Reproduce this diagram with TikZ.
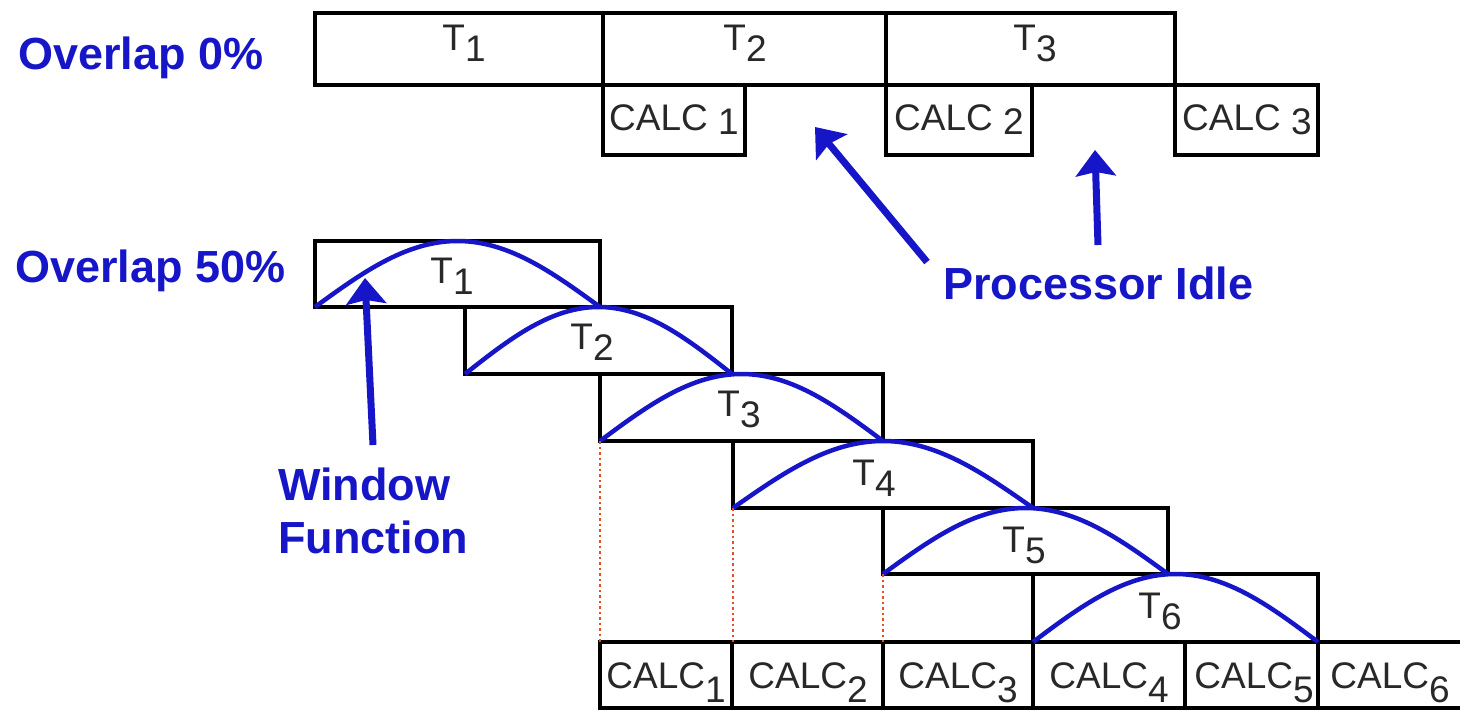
\documentclass[tikz,border=0pt]{standalone}
\usepackage{fontspec}
\setmainfont{Liberation Sans}
\usetikzlibrary{arrows.meta}
\definecolor{bl}{RGB}{22,22,200}
\definecolor{tx}{RGB}{40,40,40}
\definecolor{dotc}{RGB}{225,80,40}
\newcommand{\lsub}[1]{\raisebox{-11pt}{#1}}
\newcommand{\csub}[1]{\raisebox{-14pt}{#1}}
\newcommand{\tsub}[1]{\raisebox{-4pt}{#1}}
\begin{document}
\begin{tikzpicture}[x=1pt,y=-1pt,
  box/.style={draw=black, line width=4.5pt, inner sep=0pt, outer sep=0pt, anchor=north west},
  lab/.style={text=tx, font=\fontsize{37}{40}\selectfont, inner sep=0pt, anchor=base},
  blab/.style={text=bl, font=\fontsize{45}{53}\selectfont\bfseries, inner sep=0pt, anchor=base west},
  win/.style={draw=bl, line width=4.5pt},
  arr/.style={draw=bl, line width=7pt, -{Stealth[length=26pt,width=40pt,inset=4pt]}},
  guide/.style={draw=dotc, line width=2.5pt, dash pattern=on 2.5pt off 3pt}]
\fill[white] (0,0) rectangle (1460,711);
\useasboundingbox (0,0) rectangle (1460,711);
\clip (0,0) rectangle (1460,711);

% ---- Overlap 0% ----
\node[box, minimum width=288pt, minimum height=72pt] (o1) at (315,13) {};
\node[box, minimum width=283pt, minimum height=72pt] (o2) at (603,13) {};
\node[box, minimum width=289pt, minimum height=72pt] (o3) at (886,13) {};
\node[box, minimum width=142pt, minimum height=70pt] (c1) at (603,85) {};
\node[box, minimum width=146pt, minimum height=70pt] (c2) at (886,85) {};
\node[box, minimum width=143pt, minimum height=70pt] (c3) at (1175,85) {};
\node[lab] (lo1) at (464,51) {T\lsub{1}};
\node[lab] (lo2) at (745,51) {T\lsub{2}};
\node[lab] (lo3) at (1035,51) {T\lsub{3}};
\node[lab] (lc1) at (674,131) {CALC \tsub{1}};
\node[lab] (lc2) at (959,131) {CALC \tsub{2}};
\node[lab] (lc3) at (1247,131) {CALC \tsub{3}};

% ---- Overlap 50% ----
\node[box, minimum width=285pt, minimum height=66pt] (w1) at (315,241) {};
\node[box, minimum width=267pt, minimum height=67pt] (w2) at (465,307) {};
\node[box, minimum width=283pt, minimum height=67pt] (w3) at (600,374) {};
\node[box, minimum width=300pt, minimum height=67pt] (w4) at (733,441) {};
\node[box, minimum width=285pt, minimum height=66pt] (w5) at (883,508) {};
\node[box, minimum width=285pt, minimum height=68pt] (w6) at (1033,574) {};
\node[box, minimum width=132pt, minimum height=66pt] (k1) at (600,642) {};
\node[box, minimum width=151pt, minimum height=66pt] (k2) at (732,642) {};
\node[box, minimum width=150pt, minimum height=66pt] (k3) at (883,642) {};
\node[box, minimum width=152pt, minimum height=66pt] (k4) at (1033,642) {};
\node[box, minimum width=133pt, minimum height=66pt] (k5) at (1185,642) {};
\node[box, minimum width=170pt, minimum height=66pt] (k6) at (1318,642) {};

% window functions
\foreach \a/\w/\b/\h in {315/285/307/66, 465/267/374/67, 600/283/441/67,
                          733/300/508/67, 883/285/574/66, 1033/285/642/68}
  \draw[win] plot[domain=0:180, samples=60] ({\a+\w/180*\x},{\b-\h*sin(\x)});

\node[lab] (lw1) at (452,284) {T\lsub{1}};
\node[lab] (lw2) at (592,350) {T\lsub{2}};
\node[lab] (lw3) at (739,417) {T\lsub{3}};
\node[lab] (lw4) at (874,485) {T\lsub{4}};
\node[lab] (lw5) at (1024,552) {T\lsub{5}};
\node[lab] (lw6) at (1160,618) {T\lsub{6}};

\node[lab] (lk1) at (666,688) {CALC\csub{1}};
\node[lab] (lk2) at (808,688) {CALC\csub{2}};
\node[lab] (lk3) at (958,688) {CALC\csub{3}};
\node[lab] (lk4) at (1109,688) {CALC\csub{4}};
\node[lab] (lk5) at (1254,688) {CALC\csub{5}};
\node[lab] (lk6) at (1390,688) {CALC\csub{6}};

% dotted guides
\draw[guide] (w3.south west) -- (w3.south west |- k1.north);
\draw[guide] (w4.south west) -- (w4.south west |- k2.north);
\draw[guide] (w5.south west) -- (w5.south west |- k3.north);

% ---- blue annotations ----
\node[blab] (ov0) at (18,70) {Overlap 0\%};
\node[blab] (ov50) at (15,283) {Overlap 50\%};
\node[blab] (pi) at (943,300) {Processor Idle};
\node[blab] (wf1) at (278,500) {Window};
\node[blab] (wf2) at (278,553) {Function};

\coordinate (pa1) at (927,262);
\coordinate (pt1) at (815,127);
\coordinate (pa2) at (1098,245);
\coordinate (pt2) at (1095,150);
\coordinate (wa) at (373,445);
\coordinate (wt) at (365,278);
\draw[arr] (pa1) -- (pt1);
\draw[arr] (pa2) -- (pt2);
\draw[arr] (wa) -- (wt);
\end{tikzpicture}
\end{document}
